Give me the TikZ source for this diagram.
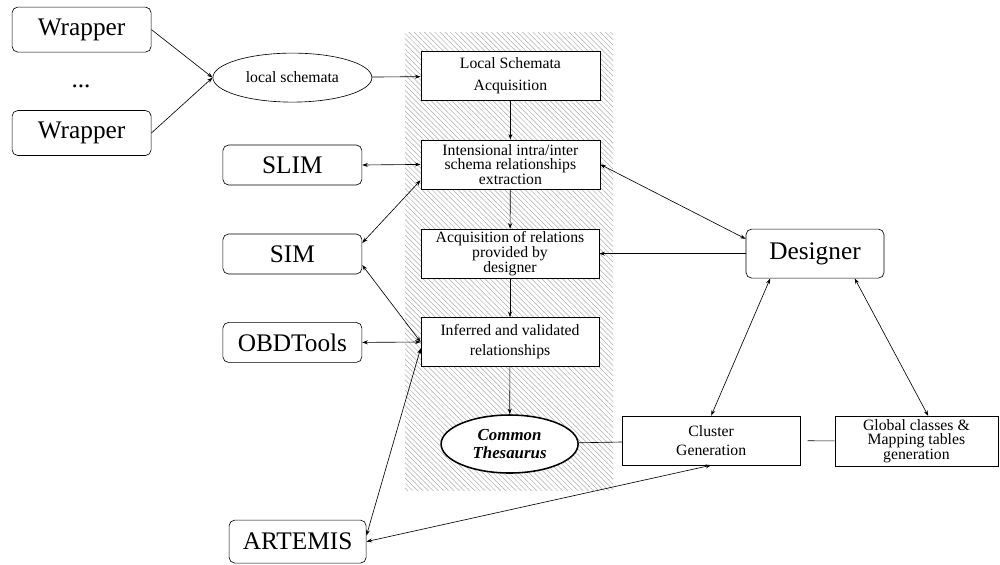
\documentclass[tikz,border=0pt]{standalone}
\usepackage{fontspec}
\setmainfont{Liberation Serif}
\usepackage{tikz}
\usetikzlibrary{positioning, shapes.geometric, arrows.meta, patterns.meta}

\begin{document}
\begin{tikzpicture}[
    >={Stealth[length=4pt,width=2.8pt]},
    every path/.style={line width=0.45pt},
    tool/.style={draw, rounded corners=4pt, fill=white, inner sep=0pt,
        minimum width=3.475cm, minimum height=1cm, font=\fontsize{18}{20}\selectfont},
    proc/.style={draw, fill=white, inner sep=0pt, align=center,
        minimum width=4.45cm, minimum height=1.225cm, font=\fontsize{11.2}{14.2}\selectfont},
    tight/.style={font=\fontsize{11.2}{10.4}\selectfont},
    blob/.style={draw, ellipse, fill=white, inner sep=0pt, align=center}
]
    \useasboundingbox (0,0) rectangle (25,-14.1);
    \fill[pattern={Lines[angle=-45,distance=2.6pt,line width=0.35pt]}, pattern color=gray!65]
        (10.125,-0.8) rectangle (15.325,-12.25);

    \node[tool, minimum height=1.125cm] (wrapA) at (2.04,-0.74) {Wrapper};
    \node[anchor=base, font=\fontsize{18}{20}\selectfont] (dots) at (2.025,-2.175) {...};
    \node[tool, minimum height=1.125cm] (wrapB) at (2.04,-3.325) {Wrapper};
    \node[blob, minimum width=3.975cm, minimum height=1.225cm, font=\fontsize{11.2}{13}\selectfont] (locsch) at (7.31,-1.94) {local schemata};

    \node[proc, minimum width=4.475cm, font=\fontsize{11.2}{15.6}\selectfont] (lsa) at (12.76,-1.9) {Local Schemata\\Acquisition};
    \node[proc, tight, minimum width=4.475cm] (intens) at (12.76,-4.11) {Intensional intra/inter\\schema relationships\\extraction};
    \node[proc, tight] (acq) at (12.75,-6.34) {Acquisition of relations\\provided by\\designer};
    \node[proc] (infer) at (12.75,-8.55) {Inferred and validated\\relationships};
    \node[blob, line width=1.1pt, minimum width=3.425cm, minimum height=1.45cm,
        font=\fontsize{12}{13.5}\selectfont\bfseries\itshape] (thes) at (12.74,-11.1) {Common\\Thesaurus};

    \node[proc, font=\fontsize{11.2}{13.5}\selectfont] (clus) at (17.78,-11.01) {Cluster\\Generation};
    \node[proc, tight, minimum width=4.075cm, minimum height=1.25cm] (glob) at (22.91,-11.03) {Global classes \&\\Mapping tables\\generation};
    \node[tool, minimum width=3.45cm, minimum height=1.225cm] (designer) at (20.375,-6.34) {Designer};

    \node[tool] (slim) at (7.31,-4.125) {SLIM};
    \node[tool] (sim) at (7.31,-6.35) {SIM};
    \node[tool] (obd) at (7.31,-8.56) {OBDTools};
    \node[tool, minimum width=3.425cm, minimum height=1.075cm] (artemis) at (7.44,-13.54) {ARTEMIS};

    \draw[->] (wrapA.east) -- (locsch.west);
    \draw[->] (wrapB.east) -- (locsch.west);
    \draw[->] (locsch) -- (lsa);
    \draw[->] (lsa) -- (intens);
    \draw[->] (intens) -- (acq);
    \draw[->] (acq) -- (infer);
    \draw[->] (infer) -- (thes);

    \draw[<->] (slim.east) -- (intens.west);
    \draw[<->] (sim.9) -- (intens.190);
    \draw[<->] (sim.-9) -- (infer.west);
    \draw[<->] (obd.east) -- (infer.west);
    \draw[<->] (artemis.5) -- (infer.184);
    \draw[<->] (artemis.east) -- (clus.south);

    \draw[<->] (intens.east) -- (designer.168);
    \draw[->] (designer.west) -- (acq.east);
    \draw[<->] (designer.209) -- (clus.north);
    \draw[<->] (designer.-32) -- (glob.65);

    \draw (thes) -- (clus);
    \draw[shorten <=5pt] (clus) -- (glob);
\end{tikzpicture}
\end{document}
